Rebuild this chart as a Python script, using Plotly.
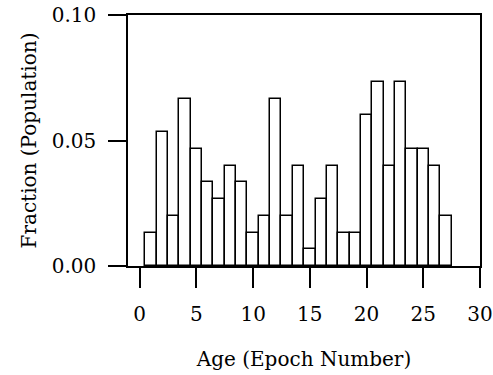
import plotly.graph_objects as go

ages = list(range(1, 28))
counts = [2, 8, 3, 10, 7, 5, 4, 6, 5, 2, 3, 10, 3, 6, 1, 4, 6, 2, 2, 9, 11, 6, 11, 7, 7, 6, 3]
total = 150
fractions = [c / total for c in counts]

x_ticks = [0, 5, 10, 15, 20, 25, 30]
y_ticks = [0.0, 0.05, 0.10]

font = dict(family="DejaVu Serif", size=20, color="black")

fig = go.Figure(go.Bar(
    x=ages, y=fractions, width=1,
    marker=dict(color="white", line=dict(color="black", width=1.5)),
))

fig.update_layout(
    width=493, height=375,
    margin=dict(l=128, r=13, t=15, b=109, autoexpand=False),
    paper_bgcolor="white", plot_bgcolor="white",
    font=font, showlegend=False, bargap=0,
)
fig.update_xaxes(
    range=[-1.03, 30], tickvals=x_ticks, ticks="outside", ticklen=20, tickwidth=1.5,
    tickcolor="black", showline=True, linecolor="black", linewidth=1.5, mirror=True,
    showgrid=False, zeroline=False, ticklabelstandoff=9, automargin=False,
    tickfont=font,
    title=dict(text="Age (Epoch Number)", standoff=27, font=font),
)
fig.update_yaxes(
    range=[0, 0.1], tickvals=y_ticks, tickformat=".2f", ticks="outside", ticklen=18,
    tickwidth=1.5, tickcolor="black", showline=True, linecolor="black", linewidth=1.5,
    mirror=True, showgrid=False, zeroline=False, ticklabelstandoff=8, automargin=False,
    tickfont=font,
    title=dict(text="Fraction (Population)", standoff=10, font=font),
)

fig.write_html("out.html")
